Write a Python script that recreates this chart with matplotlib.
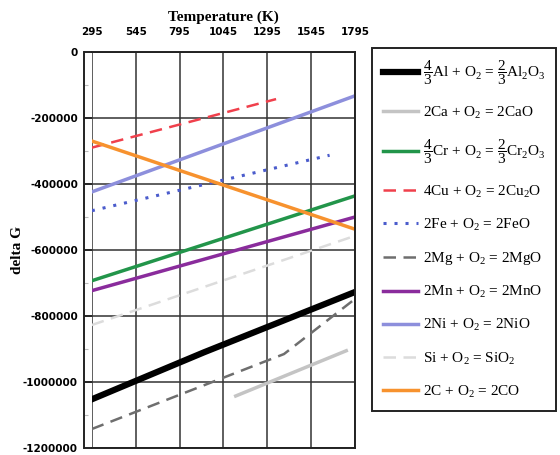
"""Ellingham diagram for common metal oxides."""

import matplotlib
matplotlib.use("Agg")
import matplotlib.pyplot as plt
from matplotlib.ticker import MultipleLocator

plt.rcParams["mathtext.fontset"] = "custom"
plt.rcParams["mathtext.rm"] = "Liberation Serif"
plt.rcParams["mathtext.it"] = "Liberation Serif:italic"
plt.rcParams["mathtext.bf"] = "Liberation Serif:bold"

temp_ticks = [295, 545, 795, 1045, 1295, 1545, 1795]
dg_ticks = [0, -200000, -400000, -600000, -800000, -1000000, -1200000]

al_t = [295, 933, 1795]
al_g = [-1052000, -910000, -727000]
ca_t = [1115, 1745]
ca_g = [-1042000, -905000]
cr_t = [295, 1795]
cr_g = [-693000, -436000]
cu_t = [295, 1345]
cu_g = [-290000, -143000]
fe_t = [295, 1650]
fe_g = [-481000, -313000]
mg_t = [295, 1390, 1795]
mg_g = [-1142000, -915000, -748000]
mn_t = [295, 1795]
mn_g = [-723000, -500000]
ni_t = [295, 1795]
ni_g = [-424000, -133000]
si_t = [295, 1795]
si_g = [-827000, -557000]
co_t = [295, 1795]
co_g = [-270000, -537000]

labels = [
    r"$\dfrac{4}{3}$Al + O$_2$ = $\dfrac{2}{3}$Al$_2$O$_3$",
    r"2Ca + O$_2$ = 2CaO",
    r"$\dfrac{4}{3}$Cr + O$_2$ = $\dfrac{2}{3}$Cr$_2$O$_3$",
    r"4Cu + O$_2$ = 2Cu$_2$O",
    r"2Fe + O$_2$ = 2FeO",
    r"2Mg + O$_2$ = 2MgO",
    r"2Mn + O$_2$ = 2MnO",
    r"2Ni + O$_2$ = 2NiO",
    r"Si + O$_2$ = SiO$_2$",
    r"2C + O$_2$ = 2CO",
]

fig = plt.figure(figsize=(5.6, 4.55), dpi=100)
ax = fig.add_axes([0.164, 0.015, 0.470, 0.871])

ax.plot(al_t, al_g, color="black", lw=4.5, label=labels[0])
ax.plot(ca_t, ca_g, color="#c4c4c4", lw=2.5, label=labels[1])
ax.plot(cr_t, cr_g, color="#22954a", lw=2.5, label=labels[2])
ax.plot(cu_t, cu_g, color="#f0404c", lw=1.8, dashes=(5, 3), label=labels[3])
ax.plot(fe_t, fe_g, color="#4b5ccc", lw=2.2, dashes=(1, 2.6), label=labels[4])
ax.plot(mg_t, mg_g, color="#6e6e6e", lw=1.8, dashes=(5, 3), label=labels[5])
ax.plot(mn_t, mn_g, color="#8a2c9c", lw=2.5, label=labels[6])
ax.plot(ni_t, ni_g, color="#8d8fdc", lw=2.5, label=labels[7])
ax.plot(si_t, si_g, color="#dcdcdc", lw=1.8, dashes=(5, 3), label=labels[8])
ax.plot(co_t, co_g, color="#f7922e", lw=2.5, label=labels[9])

# spine position first: moving it resets the tick label styling
ax.spines["left"].set_position(("outward", 6))
for side in ["left", "right", "top", "bottom"]:
    ax.spines[side].set_linewidth(1.4)
    ax.spines[side].set_color("#222222")

ax.set_xlim(295, 1795)
ax.set_ylim(-1200000, 0)
ax.xaxis.tick_top()
ax.xaxis.set_label_position("top")
ax.set_xticks(temp_ticks)
ax.set_yticks(dg_ticks)
ax.yaxis.set_minor_locator(MultipleLocator(100000))
ax.set_xticklabels([str(t) for t in temp_ticks], fontweight="bold",
                   fontsize=7.5, family="DejaVu Sans")
ax.set_yticklabels([str(v) for v in dg_ticks], fontweight="bold",
                   fontsize=7.5, family="DejaVu Sans")
ax.tick_params(axis="x", length=0, pad=11)
ax.tick_params(axis="y", which="major", direction="in", length=6,
               width=1.2, pad=4)
ax.tick_params(axis="y", which="minor", direction="in", length=3,
               width=0.8, color="#bbbbbb")
ax.grid(True, color="#333333", lw=1.1)
ax.set_axisbelow(True)

ax.set_xlabel("Temperature (K)", family="Liberation Serif", fontweight="bold",
              fontsize=11, labelpad=4)
ax.yaxis.set_label_coords(-0.258, 0.5)
ax.set_ylabel("delta G", family="Liberation Serif", fontweight="bold",
              fontsize=11)

leg = ax.legend(loc="upper left", bbox_to_anchor=(1.065, 1.01),
                prop={"family": "Liberation Serif", "size": 11},
                handlelength=2.3, labelspacing=1.12, handletextpad=0.3,
                borderpad=0.7, fancybox=False, framealpha=1,
                edgecolor="#222222", borderaxespad=0)
leg.get_frame().set_linewidth(1.4)

fig.savefig("out.png", dpi=100)
plt.close(fig)
